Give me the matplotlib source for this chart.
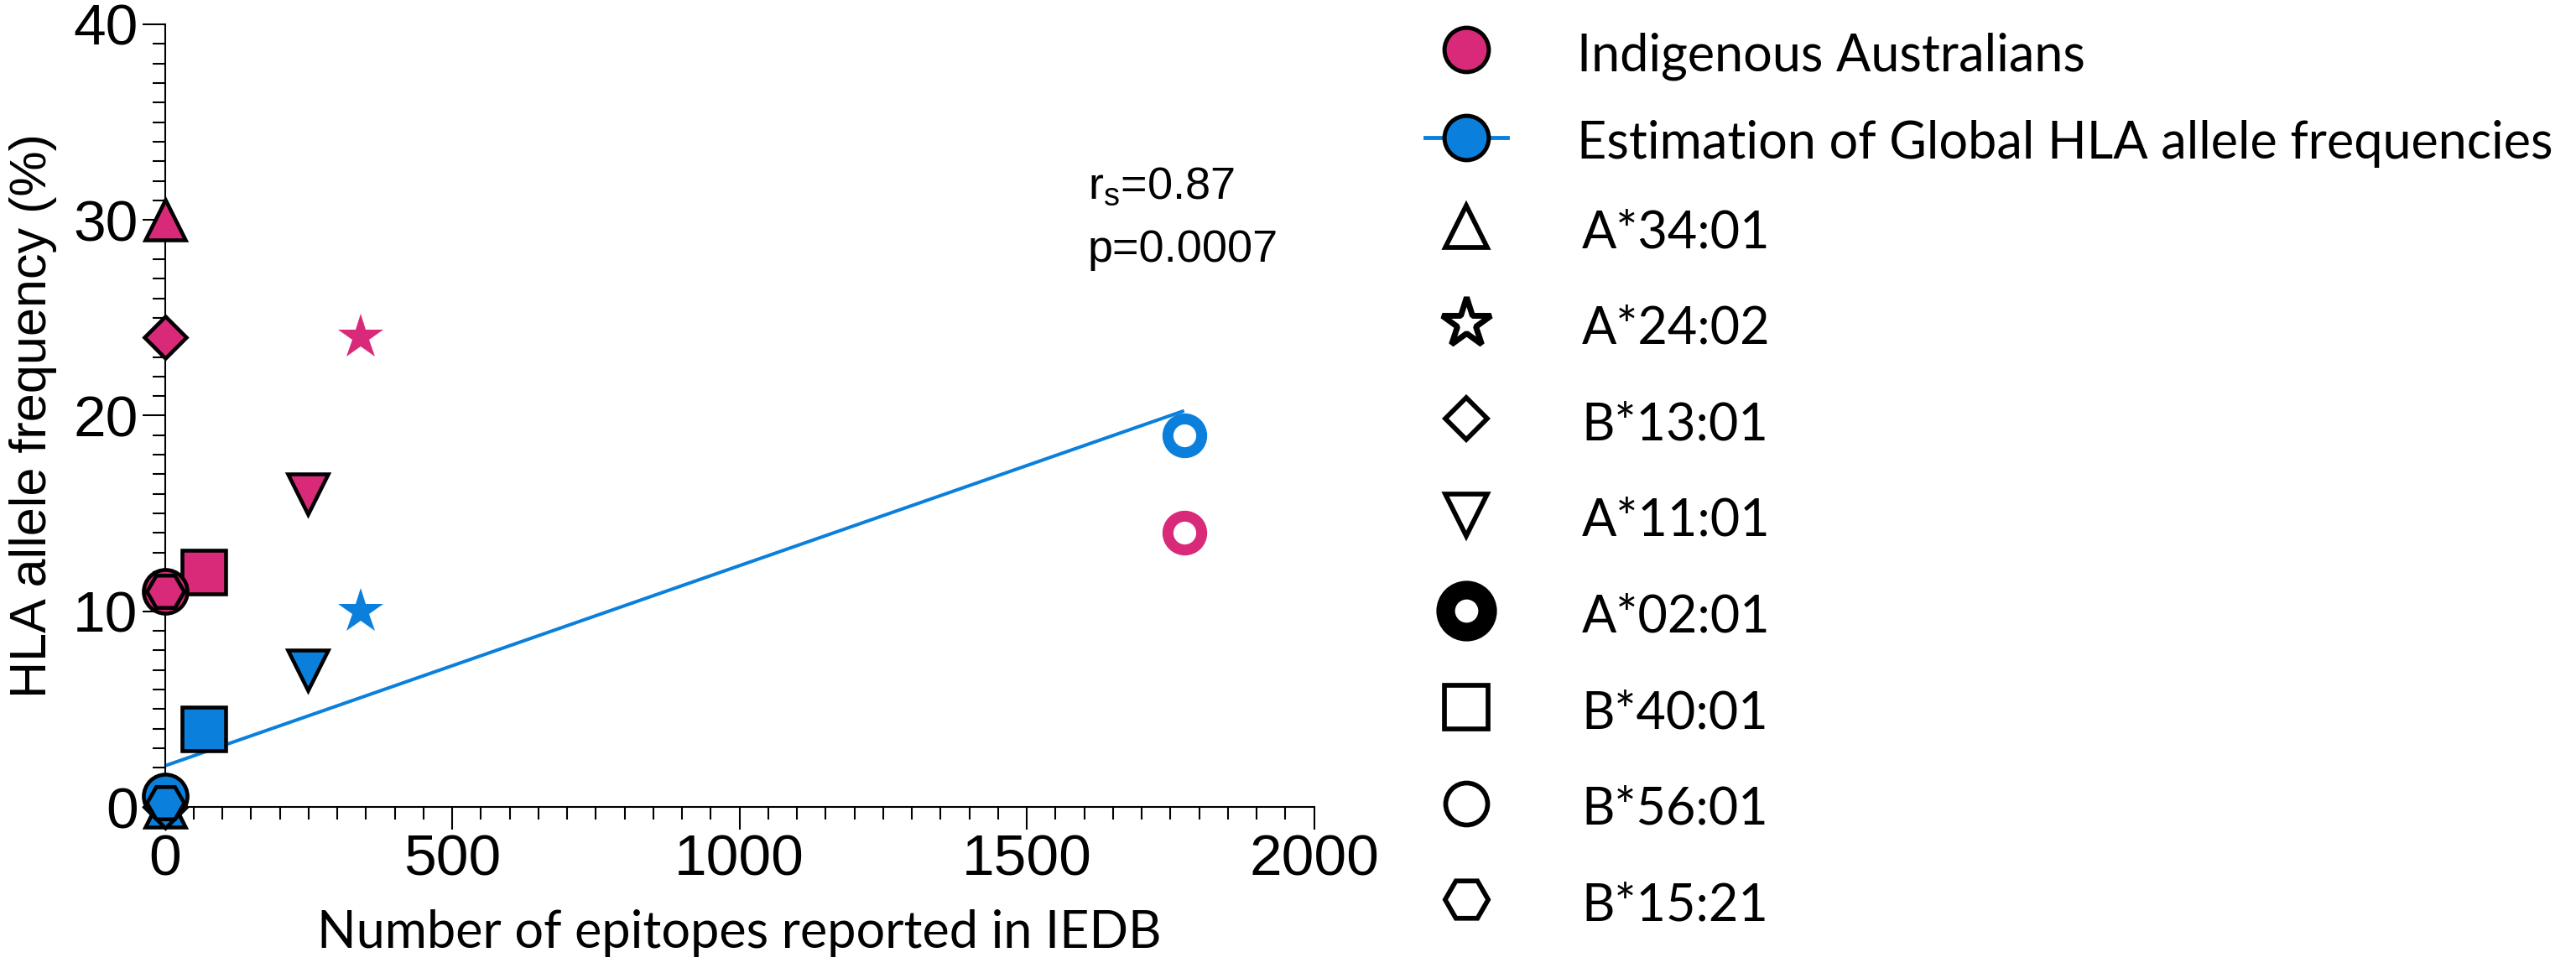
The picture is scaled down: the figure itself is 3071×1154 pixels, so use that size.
import numpy as np
import matplotlib.pyplot as plt
from matplotlib.lines import Line2D
from matplotlib.ticker import MultipleLocator

# values
alleles = ["A*34:01", "A*24:02", "B*13:01", "A*11:01", "A*02:01", "B*40:01", "B*56:01", "B*15:21"]
epitopes = [0, 341, 0, 249, 1774, 68, 0, 0]
freq_indigenous = [30, 24, 24, 16, 14, 12, 11, 11]
freq_global = [0, 10, 0, 7, 19, 4, 0.55, 0.2]

# fitted line for the global frequencies (end points)
fit_x = [0, 1774]
fit_y = [2.1, 20.25]

group_labels = ["Indigenous Australians", "Estimation of Global HLA allele frequencies"]
stats_text = ["$\\mathregular{r_s}$=0.87", "p=0.0007"]

PINK = "#D82A79"
BLUE = "#0A80DC"

# marker, size in plot, size in legend, kind  (sizes in points, dpi=100)
styles = {
    "A*34:01": ("^", 34, 36, "filled"),
    "A*24:02": ("*", 41, 44, "star"),
    "B*13:01": ("D", 25, 25.5, "filled"),
    "A*11:01": ("v", 34, 36, "filled"),
    "A*02:01": ("o", 29, 36, "ring"),
    "B*40:01": ("s", 37.5, 37, "filled"),
    "B*56:01": ("o", 37.5, 36, "filled"),
    "B*15:21": ("H", 32, 37, "filled"),
}

plt.rcParams["font.family"] = ["Liberation Sans", "DejaVu Sans"]
calibri_like = ["Lato", "DejaVu Sans"]

W, H = 3071, 1154
fig = plt.figure(figsize=(W / 100, H / 100), dpi=100)
ax = fig.add_axes([196.5 / W, 192 / H, 1370 / W, 933 / H])

# regression line
ax.plot(fit_x, fit_y, color=BLUE, lw=2.9, zorder=2, solid_capstyle="butt")

# points, one marker per allele
for freq, col in ((freq_indigenous, PINK), (freq_global, BLUE)):
    for i, a in enumerate(alleles):
        mk, ms, _, kind = styles[a]
        if kind == "ring":
            kw = dict(mfc="white", mec=col, mew=9.4)
        elif kind == "star":
            kw = dict(mfc=col, mec=col, mew=0)
        else:
            kw = dict(mfc=col, mec="black", mew=3.3)
        ax.plot(epitopes[i], freq[i], marker=mk, ms=ms, ls="none",
                clip_on=False, zorder=3, **kw)

ax.text(1606, 31.1, stats_text[0], fontsize=39, va="baseline", ha="left")
ax.text(1606, 27.85, stats_text[1], fontsize=39, va="baseline", ha="left")

ax.set_xlim(0, 2000)
ax.set_ylim(0, 40)
ax.xaxis.set_major_locator(MultipleLocator(500))
ax.xaxis.set_minor_locator(MultipleLocator(50))
ax.yaxis.set_major_locator(MultipleLocator(10))
ax.yaxis.set_minor_locator(MultipleLocator(1))
for s in ("top", "right"):
    ax.spines[s].set_visible(False)
for s in ("left", "bottom"):
    ax.spines[s].set_linewidth(1.5)
ax.tick_params(which="major", length=19.5, width=1.5, labelsize=50, pad=3.5)
ax.tick_params(which="minor", length=10.8, width=1.5)

ax.set_xlabel("Number of epitopes reported in IEDB", fontsize=44,
              family=calibri_like, labelpad=19)
ax.set_ylabel("HLA allele frequency (%)", fontsize=44, labelpad=14)

LEG_FS = 44

# legend: the two groups
group_handles = [
    Line2D([], [], ls="none", marker="o", ms=38, mfc=PINK, mec="black", mew=3.6),
    Line2D([], [], color=BLUE, lw=3.5, marker="o", ms=38, mfc=BLUE, mec="black", mew=3.6),
]
fig.legend(group_handles, group_labels, loc="upper left",
           bbox_to_anchor=(1699 / W, 1 - 34 / H), frameon=False,
           prop={"family": calibri_like, "size": LEG_FS},
           handlelength=1.6, handleheight=1.1, handletextpad=1.36,
           labelspacing=0.71, borderpad=0, borderaxespad=0)

# legend: allele shapes
allele_handles = []
for a in alleles:
    mk, _, lms, kind = styles[a]
    if kind == "ring":
        h = Line2D([], [], ls="none", marker=mk, ms=lms, mfc="white", mec="black", mew=16)
    elif kind == "star":
        h = Line2D([], [], ls="none", marker=mk, ms=lms, mfc="white", mec="black", mew=5)
    else:
        h = Line2D([], [], ls="none", marker=mk, ms=lms, mfc="white", mec="black", mew=4.1)
    allele_handles.append(h)
fig.legend(allele_handles, alleles, loc="upper left",
           bbox_to_anchor=(1699 / W, 1 - 245 / H), frameon=False,
           prop={"family": calibri_like, "size": LEG_FS},
           handlelength=1.6, handleheight=1.1, handletextpad=1.45,
           labelspacing=0.875, borderpad=0, borderaxespad=0)

fig.savefig("out.png", dpi=100)
